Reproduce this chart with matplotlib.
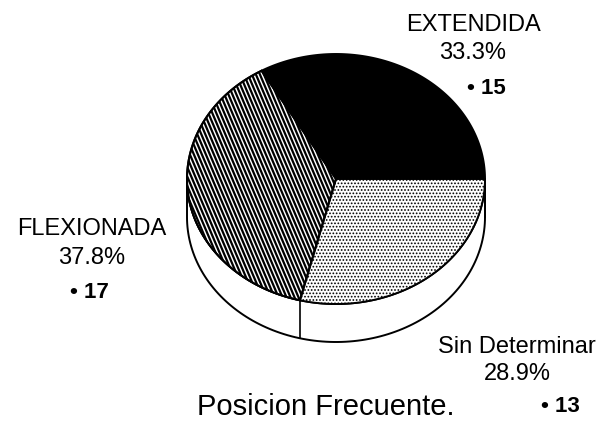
import numpy as np
import matplotlib
matplotlib.use("Agg")
import matplotlib.pyplot as plt
from matplotlib.patches import Polygon
from matplotlib.collections import LineCollection

# data
labels = ['EXTENDIDA', 'FLEXIONADA', 'Sin Determinar']
counts = [15, 17, 13]
percents = ['33.3%', '37.8%', '28.9%']
title = 'Posicion Frecuente.'

# layout (pixel space of a 606x432 canvas)
cx, cy = 336, 179        # centre of the top face
rx, ry = 149, 125        # semi axes
depth = 38               # thickness of the pie
start = 0.0              # first slice starts at 3 o'clock, counter clockwise

sans = ['Liberation Sans', 'DejaVu Sans']
plt.rcParams['hatch.linewidth'] = 0.8

fig = plt.figure(figsize=(6.06, 4.32), dpi=100)
ax = fig.add_axes([0, 0, 1, 1])
ax.set_xlim(0, 606)
ax.set_ylim(432, 0)
ax.axis('off')


def pt(theta):
    t = np.radians(theta)
    return cx + rx * np.cos(t), cy - ry * np.sin(t)


def arc(a0, a1, n=120):
    t = np.linspace(a0, a1, n)
    x, y = pt(t)
    return np.column_stack([x, y])


fracs = np.array(counts, dtype=float) / sum(counts)
bounds = start + np.concatenate([[0], np.cumsum(fracs)]) * 360

# side of the pie (visible front half)
front = arc(180, 360)
side = np.vstack([front, (front + [0, depth])[::-1]])
ax.add_patch(Polygon(side, closed=True, facecolor='white', edgecolor='black', lw=1.4, zorder=1))
for b in bounds:
    a = b % 360
    if 180 < a < 360:
        x, y = pt(a)
        ax.plot([x, x], [y, y + depth], color='black', lw=1.2, zorder=2)

# top face
styles = ['solid', 'stripes', 'dots']
for i, st in enumerate(styles):
    poly = np.vstack([[cx, cy], arc(bounds[i], bounds[i + 1])])
    if st == 'solid':
        p = Polygon(poly, closed=True, facecolor='black', edgecolor='black', lw=1.4, zorder=3)
        ax.add_patch(p)
    elif st == 'dots':
        p = Polygon(poly, closed=True, facecolor='white', edgecolor='black', lw=1.4,
                    hatch='.....', zorder=3)
        ax.add_patch(p)
    else:
        p = Polygon(poly, closed=True, facecolor='white', edgecolor='black', lw=1.4, zorder=3)
        ax.add_patch(p)
        slope = np.tan(np.radians(67))
        xs = np.arange(cx - rx - 300, cx + rx + 10, 4.0)
        segs = [[(x0, cy - ry - 10), (x0 + (2 * ry + 20) / slope, cy + ry + 10)] for x0 in xs]
        lc = LineCollection(segs, colors='black', linewidths=1.6, zorder=4)
        lc.set_clip_path(p)
        ax.add_collection(lc)
        ax.add_patch(Polygon(poly, closed=True, fill=False, edgecolor='black', lw=1.4, zorder=5))

# labels
lab_pos = [(473, 25), (92, 229), (517, 347)]
pct_pos = [(473, 53), (92, 258), (517, 374)]
cnt_pos = [(486, 88), (89, 292), (560, 406)]
for lab, pc, n, lp, pp, cp in zip(labels, percents, counts, lab_pos, pct_pos, cnt_pos):
    ax.text(*lp, lab, ha='center', va='center', fontsize=17, family=sans)
    ax.text(*pp, pc, ha='center', va='center', fontsize=17, family=sans)
    ax.text(*cp, '\u2022 ' + str(n), ha='center', va='center', fontsize=16,
            fontweight='bold', family=sans)

ax.text(326, 407, title, ha='center', va='center', fontsize=21, family=sans)

fig.savefig('out.png', dpi=100)
